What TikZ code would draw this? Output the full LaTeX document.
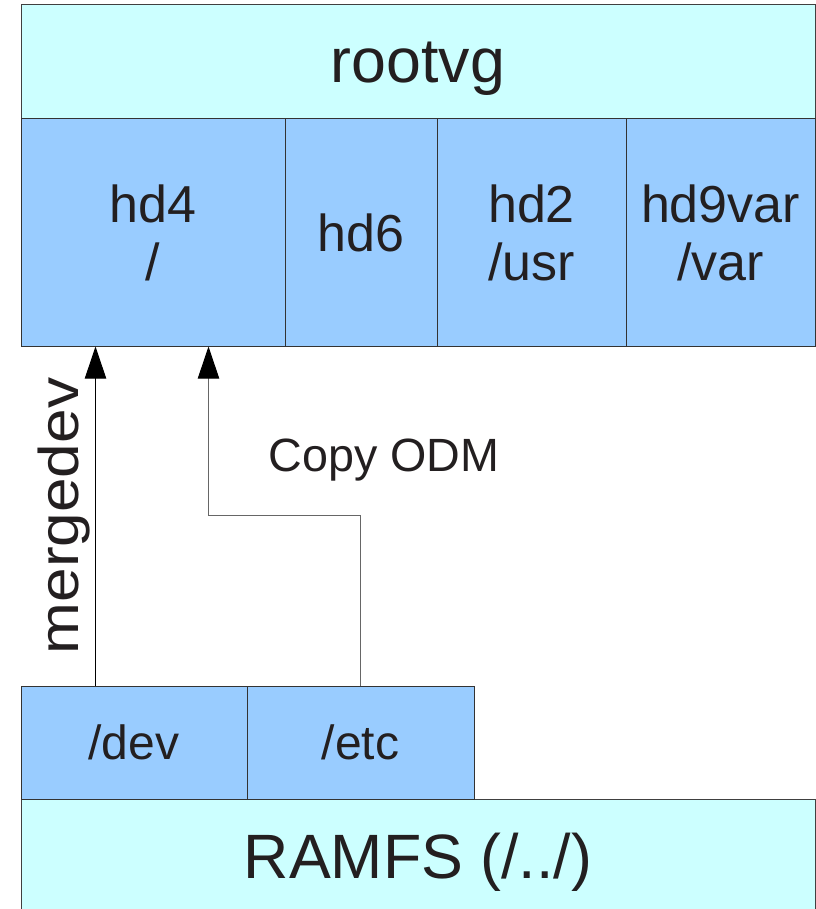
\documentclass[tikz,border=0pt]{standalone}
\usepackage{fontspec}
\usepackage{graphicx}
\setmainfont{Liberation Sans}
\usetikzlibrary{arrows.meta,calc}

\definecolor{vgcyan}{RGB}{204,255,255}
\definecolor{lvblue}{RGB}{153,204,255}
\definecolor{inkgray}{RGB}{35,31,32}

\tikzset{every picture/.style={line width=0.75pt}}
\tikzset{
	vgbox/.style={draw=black!75, fill=vgcyan, inner sep=0pt, text=inkgray, minimum width=595.5pt, text height=36pt, font=\fontsize{47}{54}\selectfont},
	lvbox/.style={draw=black!80, fill=lvblue, inner sep=0pt, text=inkgray, minimum height=170.25pt, align=center, font=\fontsize{39}{43.5}\selectfont},
	fsbox/.style={draw=black!80, fill=lvblue, inner sep=0pt, text=inkgray, minimum height=84.75pt, font=\fontsize{36}{40}\selectfont},
	mergeline/.style={draw=black, -{Triangle[length=24pt,width=16pt]}},
	copyline/.style={draw=black!60, -{Triangle[length=24pt,width=16pt,color=black]}},
}

\begin{document}
\begin{tikzpicture}[x=0.75pt,y=0.75pt,yscale=-1,xscale=1]
	\useasboundingbox (0,0) rectangle (816,909);
	
	%volume group
	\node [vgbox, minimum height=85.5pt, text depth=4.5pt] (rootvg) at (418,62) {rootvg};
	%logical volumes
	\node [lvbox, minimum width=198pt] (hd4) at (153,232.5) {hd4\\/};
	\node [lvbox, minimum width=114pt] (hd6) at (361,232.5) {hd6};
	\node [lvbox, minimum width=141.75pt] (hd2) at (531.5,232.5) {hd2\\/usr};
	\node [lvbox, minimum width=141.75pt] (hd9var) at (720.5,232.5) {hd9var\\/var};
	
	%ramfs
	\node [vgbox, minimum height=84pt, text depth=1.5pt] (ramfs) at (418,855) {RAMFS (/../)};
	\node [fsbox, minimum width=169.5pt] (dev) at (134,742.5) {/dev};
	\node [fsbox, minimum width=170.25pt] (etc) at (360.5,742.5) {/etc};
	
	%arrows
	\coordinate (devout) at ($(dev.north west)+(75,0)$);
	\coordinate (odmin) at ($(hd4.south west)+(188,0)$);
	\draw [mergeline] (devout) -- (devout |- hd4.south);
	\draw [copyline] (etc.north) -- ++(0,-170) -| (odmin);
	
	\node [rotate=90, text=inkgray, inner sep=0pt, font=\fontsize{42}{46}\selectfont] (mergelabel) at (64,516) {\scalebox{1.11}[1]{mergedev}};
	\node [text=inkgray, inner sep=0pt, font=\fontsize{35}{40}\selectfont] (copylabel) at (384,460) {Copy ODM};
	
\end{tikzpicture}
\end{document}
